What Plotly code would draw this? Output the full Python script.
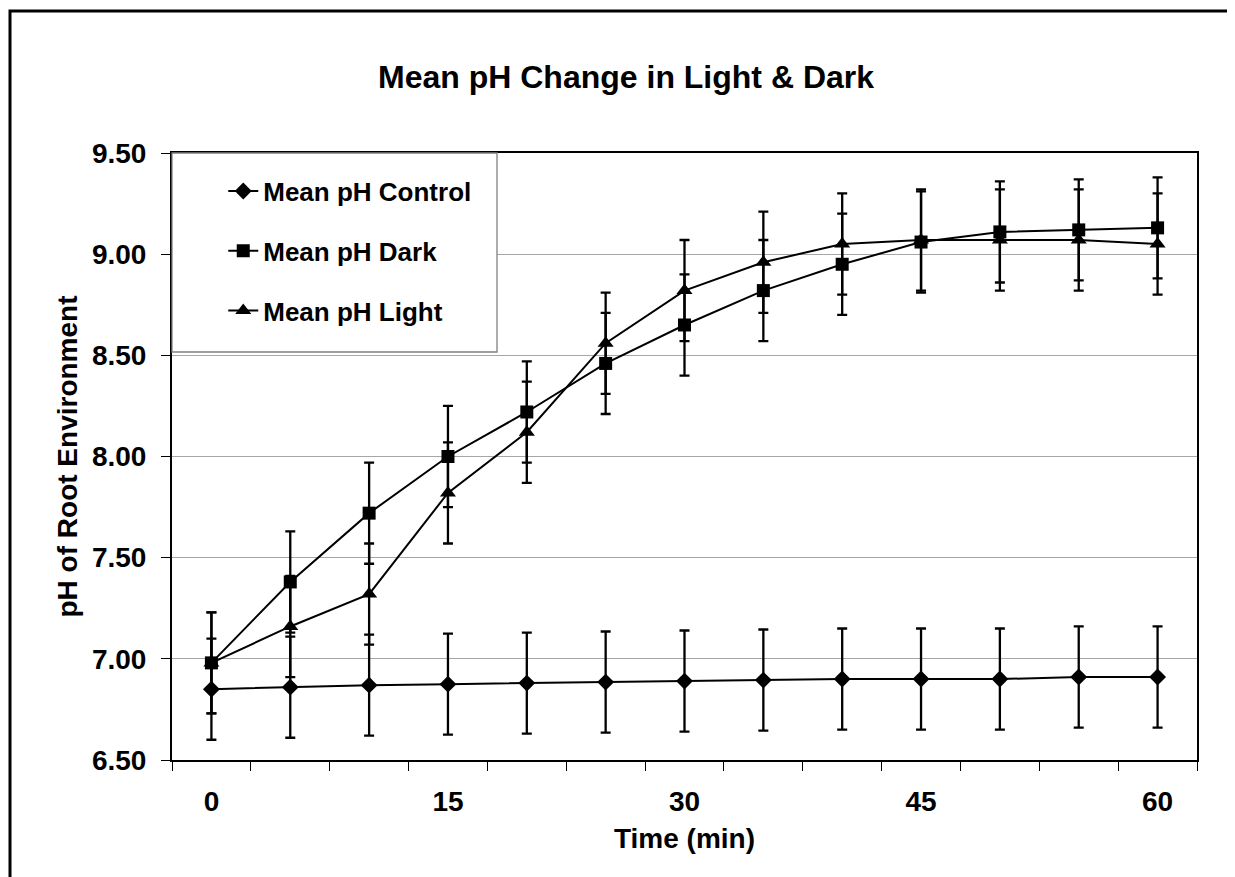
import plotly.graph_objects as go

times = [0, 5, 10, 15, 20, 25, 30, 35, 40, 45, 50, 55, 60]
control = [6.85, 6.86, 6.87, 6.875, 6.88, 6.885, 6.89, 6.895, 6.90, 6.90, 6.90, 6.91, 6.91]
control_err = [0.25] * 13
dark = [6.98, 7.38, 7.72, 8.00, 8.22, 8.46, 8.65, 8.82, 8.95, 9.06, 9.11, 9.12, 9.13]
dark_err = [0.25] * 13
light = [6.98, 7.16, 7.32, 7.82, 8.12, 8.56, 8.82, 8.96, 9.05, 9.07, 9.07, 9.07, 9.05]
light_err = [0.25] * 13
xtick_vals = [0, 15, 30, 45, 60]
xtick_text = ["0", "15", "30", "45", "60"]
ytick_vals = [6.5, 7.0, 7.5, 8.0, 8.5, 9.0, 9.5]

FONT = "Liberation Sans, Arial, sans-serif"

fig = go.Figure()
series = [
    ("Mean pH Control", control, control_err, "diamond", 13),
    ("Mean pH Dark", dark, dark_err, "square", 13),
    ("Mean pH Light", light, light_err, "triangle-up", 14),
]
for i, (name, vals, err, sym, sz) in enumerate(series):
    fig.add_trace(go.Scatter(
        x=times, y=vals, name=name, mode="lines+markers",
        legendgroup=f"g{i}",
        line=dict(color="black", width=2),
        marker=dict(symbol=sym, size=sz, color="black"),
        error_y=dict(type="data", array=err, visible=True, color="black",
                     thickness=2.3, width=5),
    ))

step = times[1] - times[0]
boundaries = [t - step / 2 for t in times] + [times[-1] + step / 2]

W, H = 1227, 869
L, R, T, B = 164, 1189, 145, 752

fig.update_layout(
    width=W, height=H,
    margin=dict(l=L, r=W - R, t=T, b=H - B, autoexpand=False),
    paper_bgcolor="white", plot_bgcolor="white",
    font=dict(family=FONT, color="black"),
    title=dict(text="Mean pH Change in Light & Dark", xref="container", yref="container",
               x=0.5037, y=0.9206, xanchor="center", yanchor="middle",
               font=dict(size=32, weight="bold", family=FONT, color="black")),
    showlegend=True,
    legend=dict(x=0.050, y=0.976, xanchor="left", yanchor="top",
                bgcolor="rgba(0,0,0,0)", borderwidth=0,
                tracegroupgap=23,
                font=dict(size=26, weight="bold", family=FONT, color="black")),
    xaxis=dict(range=[boundaries[0], boundaries[-1]], tickmode="array",
               tickvals=xtick_vals, ticktext=xtick_text, ticks="",
               ticklabelstandoff=15,
               tickfont=dict(size=28, weight="bold", family=FONT, color="black"),
               showgrid=False, zeroline=False,
               showline=True, linecolor="black", linewidth=2, mirror=True,
               minor=dict(tickmode="array", tickvals=boundaries, ticks="outside",
                          ticklen=9, tickwidth=1, tickcolor="black", showgrid=False),
               title=dict(text="Time (min)", standoff=13,
                          font=dict(size=28, weight="bold", family=FONT, color="black"))),
    yaxis=dict(range=[6.5, 9.5], tickmode="array", tickvals=ytick_vals,
               tickformat=".2f", ticks="outside", ticklen=9, tickwidth=1,
               tickcolor="black", ticklabelstandoff=9,
               tickfont=dict(size=28, weight="bold", family=FONT, color="black"),
               showgrid=True, gridcolor="#a6a6a6", gridwidth=1.3, zeroline=False,
               showline=True, linecolor="black", linewidth=2, mirror=True,
               title=dict(text="pH of Root Environment", standoff=6,
                          font=dict(size=28, weight="bold", family=FONT, color="black"))),
)

pw, ph = R - L, B - T
# legend box
fig.add_shape(type="rect", xref="paper", yref="paper",
              x0=0, x1=(497 - 172) / pw, y0=(760 - 352) / ph, y1=1,
              fillcolor="white", line=dict(color="#808080", width=1.3), layer="above")
# outer frame (cut by the page edges)
fig.add_shape(type="rect", xref="paper", yref="paper",
              x0=(10 - 172) / pw, x1=1.2, y0=-0.5, y1=1 + (153 - 11) / ph,
              line=dict(color="black", width=3), fillcolor="rgba(0,0,0,0)", layer="below")

fig.write_html("out.html")
